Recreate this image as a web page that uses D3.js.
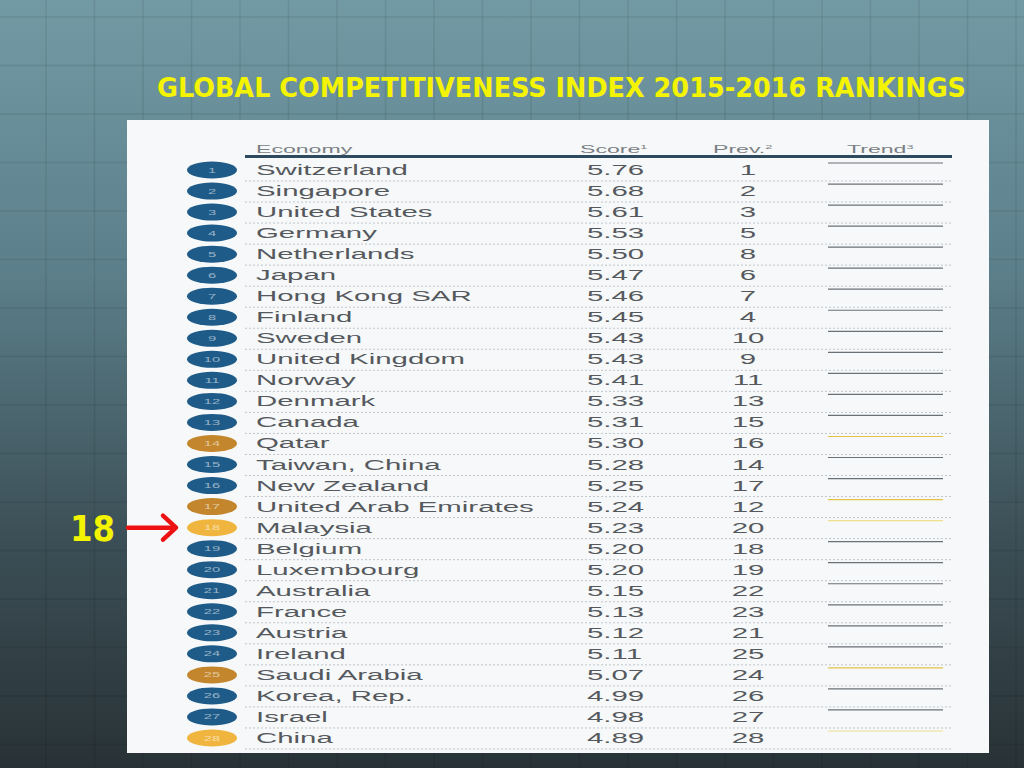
<!DOCTYPE html>
<html>
<head>
<meta charset="utf-8">
<script src="https://cdn.jsdelivr.net/npm/d3@7"></script>
<style>
  body { margin: 0; background: #3a4d54; }
  svg { display: block; }
</style>
</head>
<body>
<script>
// GCI 2015-2016 top 28
let economies = ["Switzerland","Singapore","United States","Germany","Netherlands","Japan","Hong Kong SAR","Finland","Sweden","United Kingdom","Norway","Denmark","Canada","Qatar","Taiwan, China","New Zealand","United Arab Emirates","Malaysia","Belgium","Luxembourg","Australia","France","Austria","Ireland","Saudi Arabia","Korea, Rep.","Israel","China"];
let scores = [5.76,5.68,5.61,5.53,5.50,5.47,5.46,5.45,5.43,5.43,5.41,5.33,5.31,5.30,5.28,5.25,5.24,5.23,5.20,5.20,5.15,5.13,5.12,5.11,5.07,4.99,4.98,4.89];
let prev = [1,2,3,5,8,6,7,4,10,9,11,13,15,16,14,17,12,20,18,19,22,23,21,25,24,26,27,28];
// badge group per row: "a" blue, "b" brown, "c" light orange
let stage = ["a","a","a","a","a","a","a","a","a","a","a","a","a","b","a","a","b","c","a","a","a","a","a","a","b","a","a","c"];
let headers = ["Economy","Score","Prev.","Trend"];
let headerSup = ["","1","2","3"];
let highlightRank = 18;

let w = 1024, h = 768,
    sx = 2.1; // the table image is stretched horizontally

let rows = economies.map((e, i) => ({rank: i + 1, name: e, score: scores[i], prev: prev[i], stage: stage[i]}));

let svg = d3.select("body").append("svg").attr("width", w).attr("height", h);

// background
let defs = svg.append("defs");
let grad = defs.append("linearGradient").attr("id", "bg").attr("x1", 0).attr("y1", 0).attr("x2", 0).attr("y2", 1);
grad.append("stop").attr("offset", 0).attr("stop-color", "#729aa5");
grad.append("stop").attr("offset", 0.35).attr("stop-color", "#5c808b");
grad.append("stop").attr("offset", 0.7).attr("stop-color", "#3c4f56");
grad.append("stop").attr("offset", 1).attr("stop-color", "#283236");
svg.append("rect").attr("width", w).attr("height", h).attr("fill", "url(#bg)");

let grid = svg.append("g").attr("stroke", "rgba(0,0,0,0.08)").attr("stroke-width", 1.5);
grid.selectAll(".vx").data(d3.range(46, w, 48.5)).enter().append("line")
  .attr("x1", d => d).attr("x2", d => d).attr("y1", 0).attr("y2", h);
grid.selectAll(".hz").data(d3.range(17, h, 48.5)).enter().append("line")
  .attr("y1", d => d).attr("y2", d => d).attr("x1", 0).attr("x2", w);

// title
svg.append("text")
  .attr("x", 157).attr("y", 97)
  .attr("textLength", 809).attr("lengthAdjust", "spacingAndGlyphs")
  .style("font-family", "'Liberation Sans Narrow', 'DejaVu Sans Condensed', sans-serif")
  .style("font-weight", "bold").style("font-size", "27px")
  .attr("fill", "#f4f400")
  .text("GLOBAL COMPETITIVENESS INDEX 2015-2016 RANKINGS");

// table panel
svg.append("rect").attr("x", 127).attr("y", 120).attr("width", 862).attr("height", 633).attr("fill", "#f6f8fa");

let y = d3.scalePoint().domain(rows.map(d => d.rank)).range([170, 738]);
let badgeColor = d3.scaleOrdinal().domain(["a","b","c"]).range(["#1e5b88","#c4862c","#f0b53e"]);
let trendColor = d3.scaleOrdinal().domain(["a","b","c"]).range(["#6a7176","#e3c24a","#efe08a"]);

let font = "'Liberation Sans', Arial, sans-serif";
function stretched(sel, x, yy, anchor) {
  return sel.attr("transform", `translate(${x},${yy}) scale(${sx},1)`)
    .attr("text-anchor", anchor || "start")
    .style("font-family", font);
}

// header
let colX = [256, 580, 713, 847];
headers.forEach((t, i) => {
  let tx = svg.append("text").attr("fill", "#7a7f84").style("font-size", "11px");
  stretched(tx, colX[i], 153);
  tx.append("tspan").text(t);
  if (headerSup[i]) tx.append("tspan").attr("dy", -4).style("font-size", "6px").text(headerSup[i]);
});
svg.append("line").attr("x1", 245).attr("x2", 952).attr("y1", 156.5).attr("y2", 156.5)
  .attr("stroke", "#2e4a5e").attr("stroke-width", 3);

let row = svg.selectAll(".row").data(rows).enter().append("g").attr("class", "row");

// dotted separators
row.append("line").attr("x1", 245).attr("x2", 952)
  .attr("y1", d => y(d.rank) + 11).attr("y2", d => y(d.rank) + 11)
  .attr("stroke", "#c2c6ca").attr("stroke-width", 1).attr("stroke-dasharray", "2,2");

// rank badges
row.append("ellipse").attr("cx", 212).attr("cy", d => y(d.rank)).attr("rx", 25).attr("ry", 8.5)
  .attr("fill", d => badgeColor(d.stage));
row.append("text").attr("fill", "rgba(255,255,255,0.55)").style("font-size", "7px")
  .each(function(d) { stretched(d3.select(this), 212, y(d.rank) + 2.5, "middle"); })
  .text(d => d.rank);

// names, scores, prev
row.append("text").attr("fill", "#55595d").style("font-size", "14px")
  .each(function(d) { stretched(d3.select(this), 256, y(d.rank) + 5); })
  .text(d => d.name);
row.append("text").attr("fill", "#55595d").style("font-size", "14px")
  .each(function(d) { stretched(d3.select(this), 587, y(d.rank) + 5); })
  .text(d => d3.format(".2f")(d.score));
row.append("text").attr("fill", "#55595d").style("font-size", "14px")
  .each(function(d) { stretched(d3.select(this), 748, y(d.rank) + 5, "middle"); })
  .text(d => d.prev);

// trend lines
row.append("line").attr("x1", 828).attr("x2", 943)
  .attr("y1", d => y(d.rank) - 7).attr("y2", d => y(d.rank) - 7)
  .attr("stroke", d => trendColor(d.stage)).attr("stroke-width", 1.2);

// highlight marker
let hy = y(highlightRank);
svg.append("text").attr("x", 70).attr("y", hy + 13)
  .style("font-family", "'Liberation Sans Narrow', 'DejaVu Sans Condensed', sans-serif")
  .style("font-weight", "bold").style("font-size", "36px")
  .attr("fill", "#f4f400").text(highlightRank);
let arrow = svg.append("g").attr("stroke", "#ee1111").attr("stroke-width", 4.5)
  .attr("fill", "none").attr("stroke-linecap", "round").attr("stroke-linejoin", "round");
arrow.append("line").attr("x1", 128).attr("x2", 174).attr("y1", hy).attr("y2", hy);
arrow.append("path").attr("d", `M${163},${hy - 12} L${176},${hy} L${163},${hy + 12}`);
</script>
</body>
</html>
